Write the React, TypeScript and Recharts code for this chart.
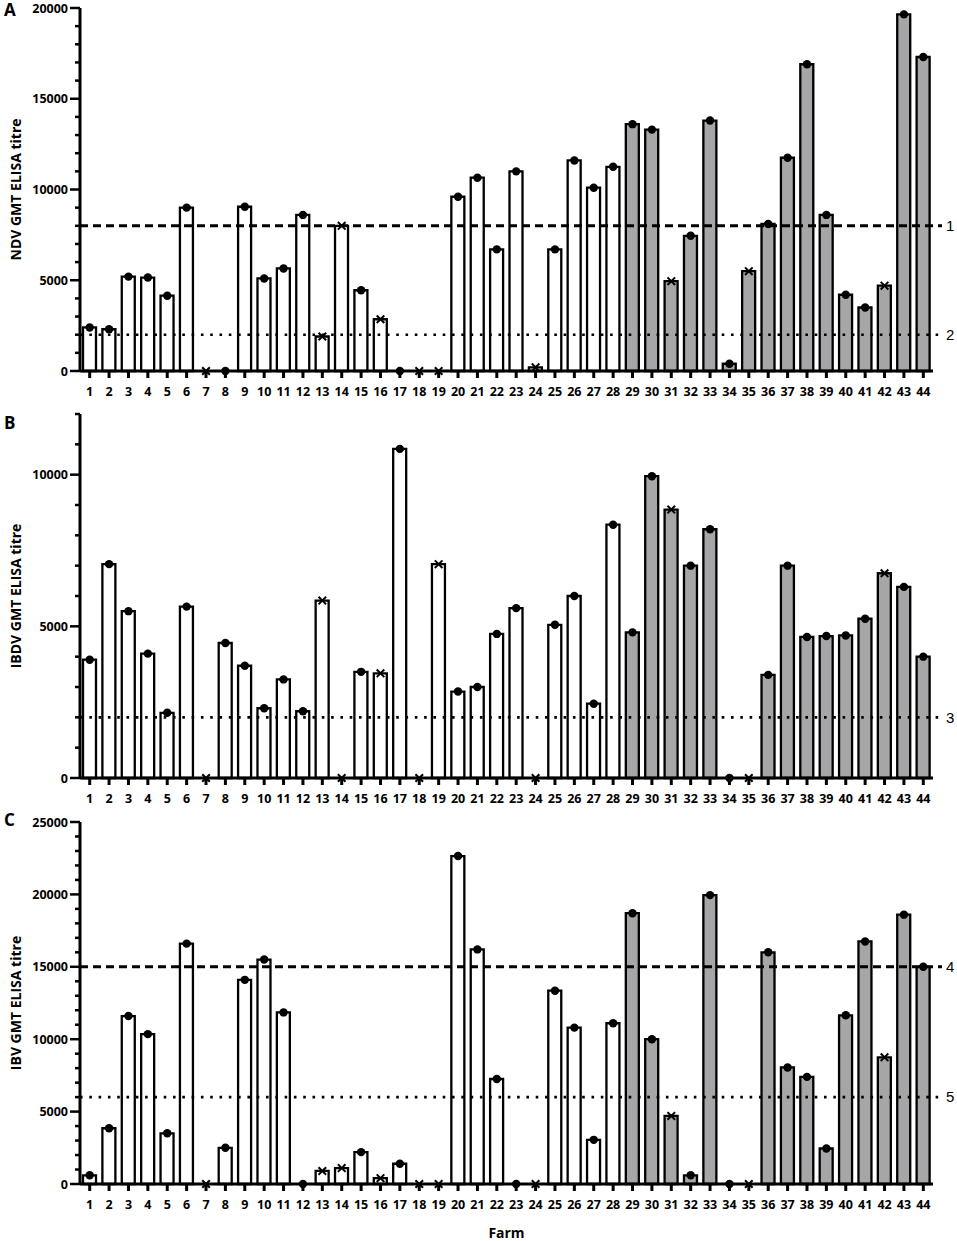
import React from "react";
import {
  ComposedChart,
  Bar,
  Cell,
  XAxis,
  YAxis,
  Scatter,
  ReferenceLine,
} from "recharts";

// farms and per-farm attributes (shared by all three panels)
const farms = [
  "1", "2", "3", "4", "5", "6", "7", "8", "9", "10", "11",
  "12", "13", "14", "15", "16", "17", "18", "19", "20", "21", "22",
  "23", "24", "25", "26", "27", "28", "29", "30", "31", "32", "33",
  "34", "35", "36", "37", "38", "39", "40", "41", "42", "43", "44",
];

// open = white bar, filled = grey bar
const farmGroup = [
  "open", "open", "open", "open", "open", "open", "open", "open", "open", "open", "open",
  "open", "open", "open", "open", "open", "open", "open", "open", "open", "open", "open",
  "open", "open", "open", "open", "open", "open", "filled", "filled", "filled", "filled", "filled",
  "filled", "filled", "filled", "filled", "filled", "filled", "filled", "filled", "filled", "filled", "filled",
];

// marker drawn on top of each bar
const farmMarker = [
  "dot", "dot", "dot", "dot", "dot", "dot", "cross", "dot", "dot", "dot", "dot",
  "dot", "cross", "cross", "dot", "cross", "dot", "cross", "cross", "dot", "dot", "dot",
  "dot", "cross", "dot", "dot", "dot", "dot", "dot", "dot", "cross", "dot", "dot",
  "dot", "cross", "dot", "dot", "dot", "dot", "dot", "dot", "cross", "dot", "dot",
];

// panel A - NDV
const ndvTitre = [
  2400, 2300, 5200, 5150, 4150, 9000, 0, 0, 9050, 5100, 5650,
  8600, 1900, 8000, 4450, 2850, 0, 0, 0, 9600, 10650, 6700,
  11000, 200, 6700, 11600, 10100, 11250, 13600, 13300, 4950, 7450, 13800,
  400, 5500, 8100, 11750, 16900, 8600, 4200, 3500, 4700, 19650, 17300,
];
const ndvTicks = [
  0, 1000, 2000, 3000, 4000, 5000, 6000, 7000, 8000, 9000, 10000,
  11000, 12000, 13000, 14000, 15000, 16000, 17000, 18000, 19000, 20000,
];
const ndvTickLabels = [0, 5000, 10000, 15000, 20000];
const ndvCutoffs = [8000, 2000];
const ndvCutoffNames = ["1", "2"];
const ndvCutoffKinds = ["dashed", "dotted"];

// panel B - IBDV
const ibdvTitre = [
  3900, 7050, 5500, 4100, 2150, 5650, 0, 4450, 3700, 2300, 3250,
  2200, 5850, 0, 3500, 3450, 10850, 0, 7050, 2850, 3000, 4750,
  5600, 0, 5050, 6000, 2450, 8350, 4800, 9950, 8850, 7000, 8200,
  0, 0, 3400, 7000, 4650, 4680, 4700, 5250, 6750, 6300, 4000,
];
const ibdvTicks = [
  0, 1000, 2000, 3000, 4000, 5000, 6000, 7000, 8000, 9000, 10000, 11000, 12000,
];
const ibdvTickLabels = [0, 5000, 10000];
const ibdvCutoffs = [2000];
const ibdvCutoffNames = ["3"];
const ibdvCutoffKinds = ["dotted"];

// panel C - IBV
const ibvTitre = [
  600, 3850, 11600, 10350, 3500, 16600, 0, 2500, 14100, 15500, 11850,
  0, 900, 1100, 2200, 400, 1400, 0, 0, 22650, 16200, 7250,
  0, 0, 13350, 10800, 3050, 11100, 18700, 10000, 4700, 600, 19950,
  0, 0, 16000, 8050, 7400, 2450, 11650, 16750, 8750, 18600, 15000,
];
const ibvTicks = [
  0, 1000, 2000, 3000, 4000, 5000, 6000, 7000, 8000, 9000, 10000,
  11000, 12000, 13000, 14000, 15000, 16000, 17000, 18000, 19000, 20000,
  21000, 22000, 23000, 24000, 25000,
];
const ibvTickLabels = [0, 5000, 10000, 15000, 20000, 25000];
const ibvCutoffs = [15000, 6000];
const ibvCutoffNames = ["4", "5"];
const ibvCutoffKinds = ["dashed", "dotted"];

const FONT = "'Open Sans', 'Noto Sans', sans-serif";
const GREY = "#a6a6a8";

const lineStyles: Record<string, { dash: string; width: number }> = {
  dashed: { dash: "8 5", width: 3 },
  dotted: { dash: "2.6 6.7", width: 2.6 },
};

function makeYTick(labels: number[]) {
  return (props: any) => {
    const { x, y, payload } = props;
    const major = labels.includes(payload.value);
    return (
      <g>
        <line
          x1={x - (major ? 10 : 5)}
          x2={x}
          y1={y}
          y2={y}
          stroke="#000"
          strokeWidth={2.5}
        />
        {major && (
          <text
            x={x - 12}
            y={y}
            dy="0.36em"
            textAnchor="end"
            fontSize={12.5}
            fontWeight={700}
            fontFamily={FONT}
            fill="#000"
          >
            {payload.value}
          </text>
        )}
      </g>
    );
  };
}

function XTick(props: any) {
  const { x, y, payload } = props;
  return (
    <g>
      <line x1={x} x2={x} y1={y} y2={y + 7} stroke="#000" strokeWidth={3} />
      <text
        x={x}
        y={y + 25}
        textAnchor="middle"
        fontSize={12.5}
        fontWeight={700}
        fontFamily={FONT}
        fill="#000"
      >
        {payload.value}
      </text>
    </g>
  );
}

function Marker(props: any) {
  const { cx, cy, payload } = props;
  if (cx == null || cy == null) return null;
  if (payload.mark === "cross") {
    const s = 3.8;
    return (
      <g>
        <line x1={cx - s} y1={cy - s} x2={cx + s} y2={cy + s} stroke="#000" strokeWidth={2} />
        <line x1={cx - s} y1={cy + s} x2={cx + s} y2={cy - s} stroke="#000" strokeWidth={2} />
      </g>
    );
  }
  return <circle cx={cx} cy={cy} r={4.2} fill="#000" />;
}

function CutoffLine(props: any) {
  const { x1, y1, x2, y2, kind } = props;
  const st = lineStyles[kind];
  return (
    <line
      x1={x1}
      y1={y1}
      x2={x2 + 9}
      y2={y2}
      stroke="#000"
      strokeWidth={st.width}
      strokeDasharray={st.dash}
    />
  );
}

interface PanelProps {
  letter: string;
  title: string;
  values: number[];
  ticks: number[];
  tickLabels: number[];
  cutoffs: number[];
  cutoffNames: string[];
  cutoffKinds: string[];
  top: number;
  height: number;
  marginTop: number;
  marginBottom: number;
  xHeight: number;
  xLabel?: string;
  letterY: number;
}

function Panel(p: PanelProps) {
  const data = farms.map((f, i) => ({
    farm: f,
    titre: p.values[i],
    mark: farmMarker[i],
    group: farmGroup[i],
  }));
  const max = p.ticks[p.ticks.length - 1];
  return (
    <div style={{ position: "absolute", left: 0, top: p.top }}>
      <ComposedChart
        width={957}
        height={p.height}
        data={data}
        margin={{ top: p.marginTop, right: 24, bottom: p.marginBottom, left: 0 }}
      >
        <XAxis
          dataKey="farm"
          type="category"
          interval={0}
          tickSize={0}
          tickMargin={0}
          tickLine={false}
          tick={<XTick />}
          height={p.xHeight}
          axisLine={false}
          label={
            p.xLabel
              ? {
                  value: p.xLabel,
                  position: "insideBottom",
                  offset: 3,
                  fontSize: 14,
                  fontWeight: 700,
                  fontFamily: FONT,
                  fill: "#000",
                }
              : undefined
          }
        />
        <YAxis
          type="number"
          domain={[0, max]}
          ticks={p.ticks}
          interval={0}
          width={80}
          tickSize={0}
          tickMargin={0}
          tickLine={false}
          tick={makeYTick(p.tickLabels)}
          axisLine={{ stroke: "#000", strokeWidth: 3 }}
          label={{
            value: p.title,
            angle: -90,
            position: "insideLeft",
            offset: 16,
            style: { textAnchor: "middle" },
            fontSize: 14,
            fontWeight: 700,
            fontFamily: FONT,
            fill: "#000",
          }}
        />
        <Bar
          dataKey="titre"
          barSize={13}
          stroke="#000"
          strokeWidth={2.3}
          isAnimationActive={false}
        >
          {data.map((d, i) => (
            <Cell key={`c-${i}`} fill={d.group === "filled" ? GREY : "#ffffff"} />
          ))}
        </Bar>
        {/* x axis baseline, drawn under the markers */}
        <ReferenceLine y={0} stroke="#000" strokeWidth={3.2} />
        {p.cutoffs.map((c, i) => (
          <ReferenceLine
            key={`r-${i}`}
            y={c}
            shape={(sp: any) => <CutoffLine {...sp} kind={p.cutoffKinds[i]} />}
            label={{
              value: p.cutoffNames[i],
              position: "right",
              offset: 13,
              fontSize: 15,
              fontFamily: "'Liberation Sans', Arial, sans-serif",
              fill: "#000",
            }}
          />
        ))}
        <Scatter dataKey="titre" isAnimationActive={false} shape={<Marker />} />
      </ComposedChart>
      <div
        style={{
          position: "absolute",
          left: 4,
          top: p.letterY,
          fontFamily: FONT,
          fontWeight: 700,
          fontSize: 17,
          lineHeight: "17px",
        }}
      >
        {p.letter}
      </div>
    </div>
  );
}

export default function App() {
  return (
    <div
      style={{
        position: "absolute",
        left: 0,
        top: 0,
        width: 957,
        height: 1241,
        background: "#fff",
        fontFamily: FONT,
      }}
    >
      <Panel
        letter="A"
        title="NDV GMT ELISA titre"
        values={ndvTitre}
        ticks={ndvTicks}
        tickLabels={ndvTickLabels}
        cutoffs={ndvCutoffs}
        cutoffNames={ndvCutoffNames}
        cutoffKinds={ndvCutoffKinds}
        top={0}
        height={400}
        marginTop={8}
        marginBottom={0}
        xHeight={29}
        letterY={1}
      />
      <Panel
        letter="B"
        title="IBDV GMT ELISA titre"
        values={ibdvTitre}
        ticks={ibdvTicks}
        tickLabels={ibdvTickLabels}
        cutoffs={ibdvCutoffs}
        cutoffNames={ibdvCutoffNames}
        cutoffKinds={ibdvCutoffKinds}
        top={400}
        height={410}
        marginTop={14}
        marginBottom={3}
        xHeight={29}
        letterY={14}
      />
      <Panel
        letter="C"
        title="IBV GMT ELISA titre"
        values={ibvTitre}
        ticks={ibvTicks}
        tickLabels={ibvTickLabels}
        cutoffs={ibvCutoffs}
        cutoffNames={ibvCutoffNames}
        cutoffKinds={ibvCutoffKinds}
        top={800}
        height={441}
        marginTop={22}
        marginBottom={0}
        xHeight={57}
        xLabel="Farm"
        letterY={11}
      />
    </div>
  );
}
